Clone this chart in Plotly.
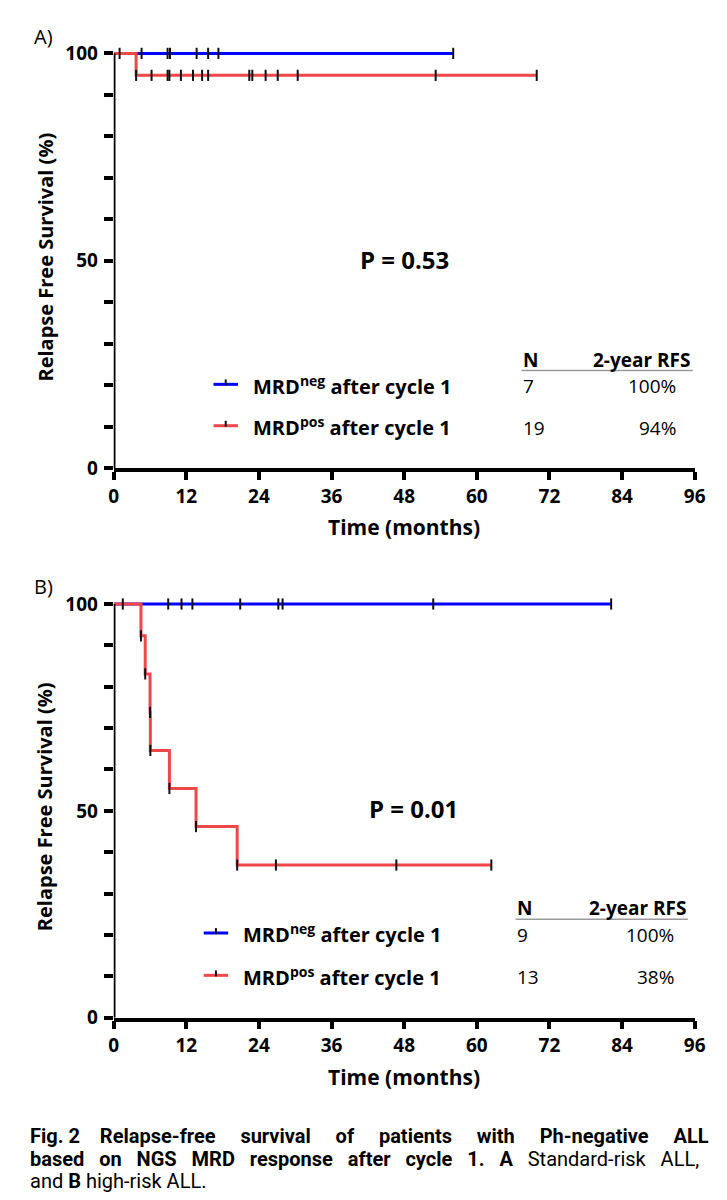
import plotly.graph_objects as go

W, H = 727, 1200

# ---------------- data ----------------
# Panel A: standard-risk ALL
a_neg_t = [0, 56.1]
a_neg_s = [100, 100]
a_neg_cens = [0.97, 4.6, 8.9, 9.3, 13.7, 15.6, 17.3, 56.1]
a_pos_t = [0, 3.7, 69.9]
a_pos_s = [100, 94.7, 94.7]
a_pos_cens = [3.7, 6.25, 8.9, 9.2, 11.1, 13.1, 14.6, 15.6, 22.4, 22.9,
              25.1, 27.1, 30.4, 53.2, 69.9]

# Panel B: high-risk ALL
b_neg_t = [0, 82.2]
b_neg_s = [100, 100]
b_neg_cens = [1.5, 9.0, 11.2, 13.0, 20.9, 27.2, 27.9, 52.8, 82.2]
b_pos_t = [0, 4.5, 5.2, 6.0, 6.05, 9.2, 13.6, 20.4, 62.4]
b_pos_s = [100, 92.3, 83.1, 73.8, 64.6, 55.4, 46.2, 36.9, 36.9]
b_pos_cens = [4.5, 5.2, 6.0, 6.05, 9.2, 13.6, 20.4, 26.8, 46.7, 62.4]

x_ticks = [0, 12, 24, 36, 48, 60, 72, 84, 96]
group_labels = ["MRD<sup>neg</sup> after cycle 1", "MRD<sup>pos</sup> after cycle 1"]
a_n = ["7", "19"]
a_rfs = ["100%", "94%"]
b_n = ["9", "13"]
b_rfs = ["100%", "38%"]
p_a = "P = 0.53"
p_b = "P = 0.01"
y_title = "Relapse Free Survival (%)"
x_title = "Time (months)"

cap_fig = "Fig. 2"
cap_line1_words = ["Relapse-free", "survival", "of", "patients", "with", "Ph-negative", "ALL"]
cap_line2_bold = ["based", "on", "NGS", "MRD", "response", "after", "cycle", "1.", "A"]
cap_line2_reg = ["Standard-risk", "ALL,"]
cap_line3 = "and <b>B</b> high-risk ALL."

BLUE = "#0000FF"
RED = "#F04848"
FONT = "Open Sans"
CAPFONT = "Roboto"


def surv_at(t, times, survs):
    v = survs[0]
    for tt, ss in zip(times, survs):
        if tt <= t + 1e-9:
            v = ss
    return v


def px(x):
    return x / W


def py(y):
    return 1 - y / H


fig = go.Figure()


def add_panel(xa, ya, neg_t, neg_s, neg_c, pos_t, pos_s, pos_c):
    for t, s, c in [(neg_t, neg_s, BLUE), (pos_t, pos_s, RED)]:
        fig.add_trace(go.Scatter(x=t, y=s, mode="lines", line=dict(color=c, width=3, shape="hv"),
                                 xaxis=xa, yaxis=ya, showlegend=False, hoverinfo="skip"))
    for cens, t, s in [(neg_c, neg_t, neg_s), (pos_c, pos_t, pos_s)]:
        fig.add_trace(go.Scatter(x=cens, y=[surv_at(c, t, s) for c in cens], mode="markers",
                                 marker=dict(symbol="line-ns", size=8,
                                             line=dict(color="#111111", width=2)),
                                 xaxis=xa, yaxis=ya, showlegend=False, hoverinfo="skip",
                                 cliponaxis=False))


add_panel("x", "y", a_neg_t, a_neg_s, a_neg_cens, a_pos_t, a_pos_s, a_pos_cens)
add_panel("x2", "y2", b_neg_t, b_neg_s, b_neg_cens, b_pos_t, b_pos_s, b_pos_cens)

xdom = [px(103), px(697)]
tickfont = dict(family=FONT, size=19, color="black", weight="bold")
xcommon = dict(domain=xdom, range=[0, 96], tickvals=x_ticks, ticks="outside", ticklen=8,
               tickwidth=3.5, tickcolor="black", showline=True, linewidth=3.5, linecolor="black",
               showgrid=False, zeroline=False, tickfont=tickfont)
ycommon = dict(range=[0, 102], tick0=0, dtick=50, ticks="outside", ticklen=9, tickwidth=3.5,
               tickcolor="black", showline=False, showgrid=False, zeroline=False,
               tickfont=tickfont, ticklabelstandoff=2,
               minor=dict(dtick=10, ticks="outside", ticklen=9, tickwidth=3.5, tickcolor="black"))

# panel A: 0 at px 462, 100 at px 41
a_top = 462 - 102 * (421 / 100)
# panel B: 0 at px 1020, 100 at px 600
b_top = 1020 - 102 * (420 / 100)

fig.update_layout(
    width=W, height=H, margin=dict(l=0, r=0, t=0, b=0),
    paper_bgcolor="white", plot_bgcolor="white",
    xaxis=dict(anchor="y", **xcommon),
    yaxis=dict(anchor="x", domain=[py(462), py(a_top)], **ycommon),
    xaxis2=dict(anchor="y2", **xcommon),
    yaxis2=dict(anchor="x2", domain=[py(1020), py(b_top)], **ycommon),
    showlegend=False,
)

shapes = []
for xr, yr in [("x", "y"), ("x2", "y2")]:
    shapes.append(dict(type="line", xref=xr, yref=yr, x0=0, x1=0, y0=0, y1=100,
                       line=dict(color="black", width=3.5), layer="above"))

ann = []
# panel labels
ann.append(dict(text="A)", x=px(20), y=py(24), xanchor="left", yanchor="middle",
                font=dict(family=FONT, size=20, color="black")))
ann.append(dict(text="B)", x=px(20), y=py(582), xanchor="left", yanchor="middle",
                font=dict(family=FONT, size=20, color="black")))
# axis titles
for yc, xc in [(248, 33), (806, 33)]:
    ann.append(dict(text=y_title, x=px(xc), y=py(yc), textangle=-90, xanchor="center",
                    yanchor="middle", font=dict(family=FONT, size=20, color="black", weight="bold")))
for yc in [522, 1080]:
    ann.append(dict(text=x_title, x=px(400), y=py(yc), xanchor="center", yanchor="middle",
                    font=dict(family=FONT, size=21, color="black", weight="bold")))
# p values
ann.append(dict(text=p_a, x=px(400), y=py(250), xanchor="center", yanchor="middle",
                font=dict(family=FONT, size=24, color="black", weight="bold")))
ann.append(dict(text=p_b, x=px(410), y=py(808), xanchor="center", yanchor="middle",
                font=dict(family=FONT, size=24, color="black", weight="bold")))


def add_legend(line_x0, text_x, rows_y, head_y, n_x, rfs_right, rfs_head_x1, under_x1, ns, rfss):
    bold = dict(family=FONT, size=20, color="black", weight="bold")
    head = dict(family=FONT, size=19, color="black", weight="bold")
    reg = dict(family=FONT, size=19, color="black")
    ann.append(dict(text="N", x=px(n_x), y=py(head_y), xanchor="left", yanchor="middle", font=head))
    ann.append(dict(text="2-year RFS", x=px(rfs_head_x1), y=py(head_y), xanchor="right",
                    yanchor="middle", font=head))
    shapes.append(dict(type="line", xref="paper", yref="paper", x0=px(n_x), x1=px(under_x1),
                       y0=py(head_y + 11), y1=py(head_y + 11), line=dict(color="#9a9a9a", width=1.5)))
    for lab, n, r, yy, col in zip(group_labels, ns, rfss, rows_y, [BLUE, RED]):
        shapes.append(dict(type="line", xref="paper", yref="paper", x0=px(line_x0), x1=px(line_x0 + 25),
                           y0=py(yy), y1=py(yy), line=dict(color=col, width=3)))
        shapes.append(dict(type="line", xref="paper", yref="paper", x0=px(line_x0 + 12.5),
                           x1=px(line_x0 + 12.5), y0=py(yy - 5), y1=py(yy + 1),
                           line=dict(color="#111111", width=2)))
        ann.append(dict(text=lab, x=px(text_x), y=py(yy + 1), xanchor="left", yanchor="middle", font=bold))
        ann.append(dict(text=n, x=px(n_x), y=py(yy + 2), xanchor="left", yanchor="middle", font=reg))
        ann.append(dict(text=r, x=px(rfs_right), y=py(yy + 2), xanchor="right", yanchor="middle", font=reg))


add_legend(205, 244, [377, 419], 352, 520, 679, 694, 695, a_n, a_rfs)
add_legend(195, 234, [934, 977], 909, 514, 677, 690, 690, b_n, b_rfs)

# caption (spread with extra spaces to mimic the justified reference text)
NB = "\u00a0"
gap1 = NB * 5
gap2 = NB * 3
line1 = "<b>" + cap_fig + NB * 4 + gap1.join(cap_line1_words) + "</b>"
line2 = "<b>" + gap2.join(cap_line2_bold) + "</b>" + gap2 + gap2.join(cap_line2_reg)
cap_font = dict(family=CAPFONT, size=20, color="black")
for txt, yy in [(line1, 1140), (line2, 1163), (cap_line3, 1186)]:
    ann.append(dict(text=txt, x=px(16), y=py(yy), xanchor="left", yanchor="middle", font=cap_font))

for a in ann:
    a.setdefault("xref", "paper")
    a.setdefault("yref", "paper")
    a["showarrow"] = False
    a["borderpad"] = 0

fig.update_layout(shapes=shapes, annotations=ann)
fig.write_html("out.html")
